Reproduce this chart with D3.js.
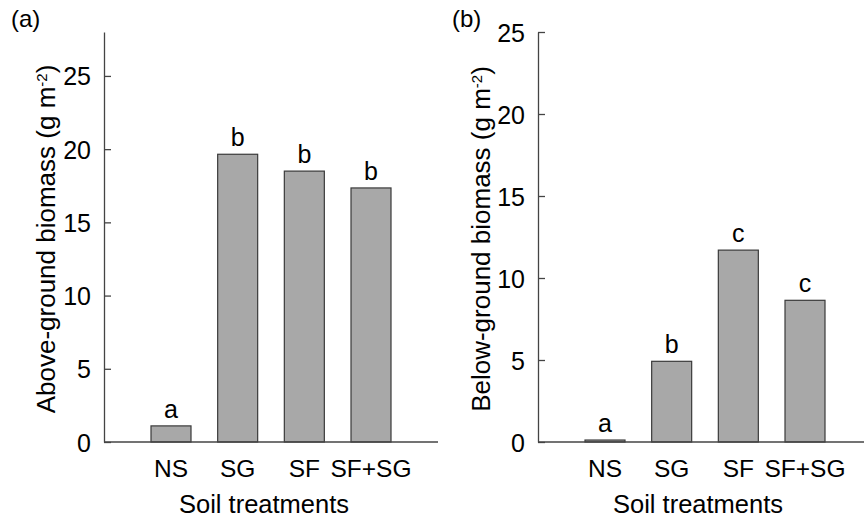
<!DOCTYPE html>
<html>
<head>
<meta charset="utf-8">
<script src="https://cdn.jsdelivr.net/npm/d3@7"></script>
<style>
  body { margin: 0; background: #fff; }
  text { font-family: "Liberation Sans", Arial, sans-serif; fill: #000; }
</style>
</head>
<body>
<div id="chart"></div>
<script>
// data
var treatments = ["NS", "SG", "SF", "SF+SG"];
var aboveValues = [1.1, 19.65, 18.5, 17.35];
var aboveLetters = ["a", "b", "b", "b"];
var belowValues = [0.12, 4.92, 11.7, 8.64];
var belowLetters = ["a", "b", "c", "c"];
var yTicks = [0, 5, 10, 15, 20, 25];

var W = 864, H = 521;
var svg = d3.select("#chart").append("svg")
    .attr("width", W)
    .attr("height", H);

// one panel = one small bar chart
function drawPanel(opt) {
    var g = svg.append("g")
        .attr("transform", "translate(" + opt.left + ",0)");

    var x = d3.scaleBand()
        .domain(treatments)
        .range([0, 334])
        .paddingInner(0.4)
        .paddingOuter(0.705);

    var y = d3.scaleLinear()
        .domain([0, opt.ymax])
        .range([442, 32]);

    // bars
    g.selectAll(".bar")
        .data(opt.values)
        .enter().append("rect")
        .attr("class", "bar")
        .attr("x", function(d, i) { return x(treatments[i]); })
        .attr("width", x.bandwidth())
        .attr("y", function(d) { return y(d); })
        .attr("height", function(d) { return y(0) - y(d); })
        .attr("fill", "#a8a8a8")
        .attr("stroke", "#3a3a3a")
        .attr("stroke-width", 1.2);

    // significance letters
    g.selectAll(".lett")
        .data(opt.values)
        .enter().append("text")
        .attr("class", "lett")
        .attr("x", function(d, i) { return x(treatments[i]) + x.bandwidth() / 2; })
        .attr("y", function(d) { return y(d) - 8; })
        .attr("text-anchor", "middle")
        .style("font-size", "25px")
        .text(function(d, i) { return opt.letters[i]; });

    // y axis, ticks pointing inward
    var ya = g.append("g")
        .call(d3.axisLeft(y).tickValues(yTicks).tickSize(-7).tickSizeOuter(0).tickPadding(13));
    ya.select(".domain").attr("stroke", "#444").attr("stroke-width", 1.3);
    ya.selectAll(".tick line").attr("stroke", "#444").attr("stroke-width", 1.3);
    ya.selectAll(".tick text")
        .style("font-size", "25px")
        .style("font-family", "'Liberation Sans', Arial, sans-serif")
        .attr("fill", "#000")
        .attr("dy", "0.36em");

    // x axis: plain line + category labels
    var xa = g.append("g")
        .attr("transform", "translate(0," + y(0) + ")")
        .call(d3.axisBottom(x).tickSize(0).tickPadding(18));
    xa.select(".domain")
        .attr("d", "M0,0H334")
        .attr("stroke", "#444").attr("stroke-width", 1.3);
    xa.selectAll(".tick text")
        .style("font-size", "24.5px")
        .style("font-family", "'Liberation Sans', Arial, sans-serif")
        .attr("fill", "#000");

    // x title
    g.append("text")
        .attr("x", 160)
        .attr("y", 513)
        .attr("text-anchor", "middle")
        .style("font-size", "25.5px")
        .text("Soil treatments");

    // y title with superscript
    var yt = svg.append("text")
        .attr("transform", "translate(" + opt.titleX + ",239) rotate(-90)")
        .attr("text-anchor", "middle")
        .style("font-size", "26px");
    yt.append("tspan").text(opt.title + " (g m");
    yt.append("tspan").attr("baseline-shift", "super").style("font-size", "15px").text("-2");
    yt.append("tspan").text(")");

    // panel tag
    svg.append("text")
        .attr("x", opt.tagX)
        .attr("y", 27)
        .style("font-size", "24px")
        .text(opt.tag);
}

drawPanel({
    left: 104, ymax: 28, values: aboveValues, letters: aboveLetters,
    title: "Above-ground biomass", titleX: 55, tag: "(a)", tagX: 11
});
drawPanel({
    left: 538, ymax: 25, values: belowValues, letters: belowLetters,
    title: "Below-ground biomass", titleX: 490, tag: "(b)", tagX: 452
});
</script>
</body>
</html>
